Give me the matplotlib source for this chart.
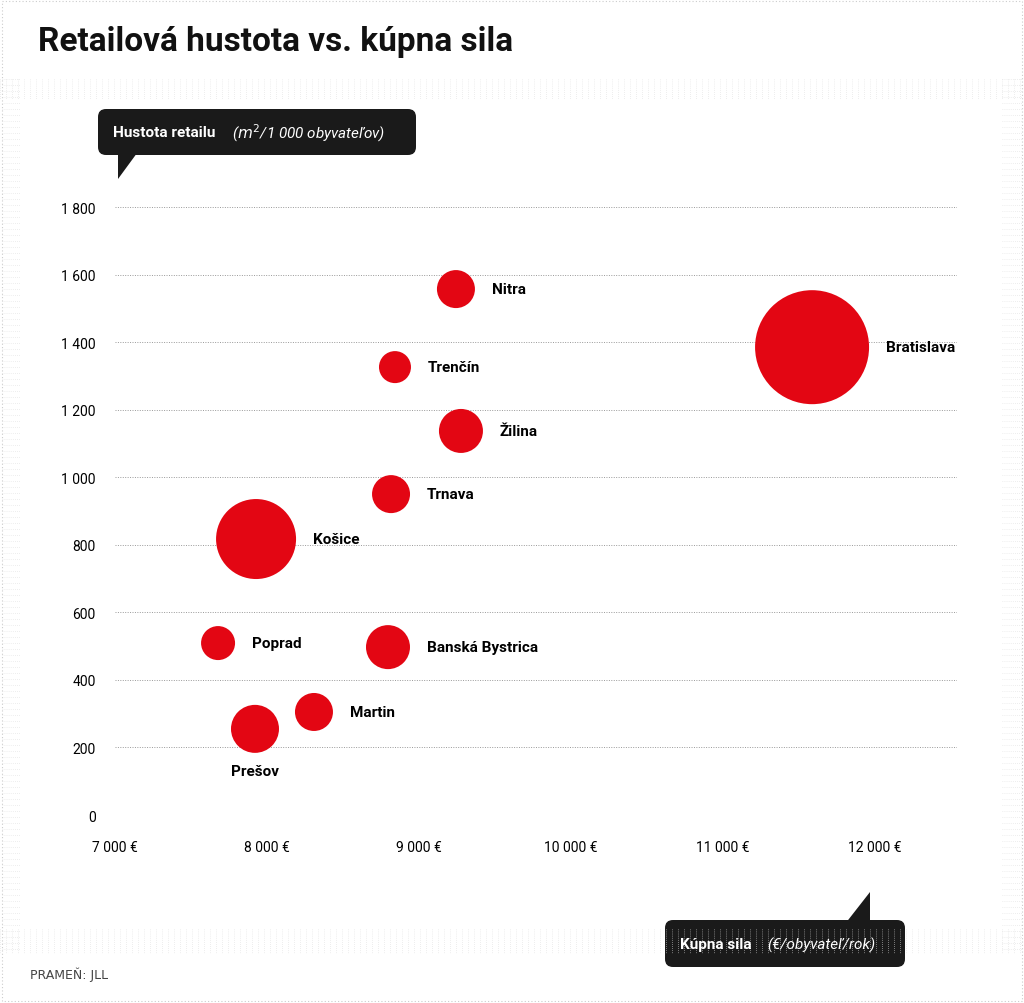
import matplotlib
matplotlib.use("Agg")
import matplotlib.pyplot as plt
from matplotlib.patches import FancyBboxPatch, Polygon, Rectangle

cities = ["Nitra", "Bratislava", "Trenčín", "Žilina", "Trnava", "Košice",
          "Poprad", "Banská Bystrica", "Martin", "Prešov"]
purchasing = [9243, 11586, 8842, 9276, 8816, 7928, 7678, 8796, 8309, 7921]
density = [1557, 1385, 1326, 1137, 950, 817, 509, 497, 305, 255]
radius_px = [19, 57, 16, 22, 19, 40, 17, 22, 19, 24]
xticks = [7000, 8000, 9000, 10000, 11000, 12000]
yticks = [0, 200, 400, 600, 800, 1000, 1200, 1400, 1600, 1800]

W, H = 1024, 1004
fig = plt.figure(figsize=(W/100, H/100), dpi=100)
fig.patch.set_facecolor("white")

# dotted background frame
bg = fig.add_axes([0, 0, 1, 1]); bg.set_xlim(0, W); bg.set_ylim(H, 0); bg.axis("off")
for x in range(0, W, 6):
    for y0, y1 in [(80, 100), (930, 955)]:
        bg.plot([x, x], [y0, y1], color="#dddddd", lw=0.5, ls=(0, (1, 2)))
for y in range(80, 955, 6):
    for x0, x1 in [(2, 20), (1002, 1022)]:
        bg.plot([x0, x1], [y, y], color="#dddddd", lw=0.5, ls=(0, (1, 2)))
bg.add_patch(Rectangle((2, 2), 1020, 1000, fill=False, ec="#cccccc", lw=0.8, ls=(0, (1, 2))))

fig.text(38/W, 1-42/H, "Retailová hustota vs. kúpna sila", fontsize=24, fontweight="bold",
         family="Roboto", va="center", color="#111111")
fig.text(30/W, 1-975/H, "PRAMEŇ: JLL", fontsize=9, color="#444444", va="center")

left, right, top, bottom = 115, 957, 208, 816
ax = fig.add_axes([left/W, 1-bottom/H, (right-left)/W, (bottom-top)/H])
ax.set_xlim(7000, 7000 + (right-left)/152*1000)
ax.set_ylim(0, 1800)
for s in ax.spines.values():
    s.set_visible(False)
ax.set_xticks(xticks)
ax.set_xticklabels([f"{v//1000} 000 €" for v in xticks], fontsize=10, family="Roboto")
ax.set_yticks(yticks)
ax.set_yticklabels([f"{v//1000} {v%1000:03d}" if v >= 1000 else str(v) for v in yticks],
                   fontsize=10, family="Roboto")
ax.tick_params(length=0, pad=14)
ax.tick_params(axis="x", pad=18)
ax.grid(axis="y", color="#999999", lw=0.7, ls=(0, (1, 1.5)))
ax.set_axisbelow(True)
sizes = [(2*r*0.72)**2 for r in radius_px]
ax.scatter(purchasing, density, s=sizes, color="#e30613", zorder=3, lw=0)
for c, x, y, r in zip(cities, purchasing, density, radius_px):
    if c == "Prešov":
        ax.annotate(c, (x, y), xytext=(0, -(r+18)*0.72), textcoords="offset points",
                    ha="center", va="center", fontsize=11, fontweight="bold", family="Roboto")
    else:
        ax.annotate(c, (x, y), xytext=((r+17)*0.72, 0), textcoords="offset points",
                    ha="left", va="center", fontsize=11, fontweight="bold", family="Roboto")

# callouts
bg.add_patch(FancyBboxPatch((98, 110), 318, 46, boxstyle="round,pad=0,rounding_size=8",
                            fc="#1a1a1a", ec="none"))
bg.add_patch(Polygon([(118, 150), (140, 150), (118, 180)], fc="#1a1a1a", ec="none"))
bg.text(113, 133, r"Hustota retailu ", fontsize=11, fontweight="bold", color="white",
        va="center", family="Roboto")
bg.text(232, 133, r"($m^2$/1 000 obyvateľov)", fontsize=11, style="italic", color="white",
        va="center", family="Roboto")
bg.add_patch(FancyBboxPatch((665, 921), 240, 47, boxstyle="round,pad=0,rounding_size=8",
                            fc="#1a1a1a", ec="none"))
bg.add_patch(Polygon([(845, 925), (870, 925), (870, 893)], fc="#1a1a1a", ec="none"))
bg.text(680, 945, "Kúpna sila ", fontsize=11, fontweight="bold", color="white",
        va="center", family="Roboto")
bg.text(767, 945, "(€/obyvateľ/rok)", fontsize=11, style="italic", color="white",
        va="center", family="Roboto")

fig.savefig("out.png", dpi=100)
